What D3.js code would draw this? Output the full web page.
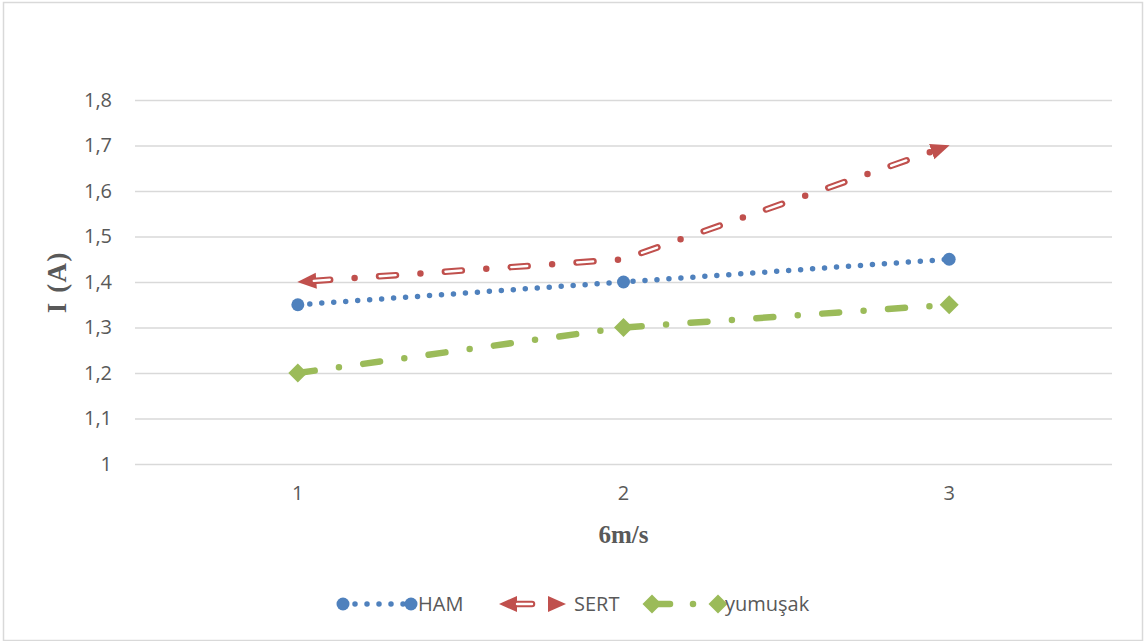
<!DOCTYPE html>
<html>
<head>
<meta charset="utf-8">
<script src="https://cdn.jsdelivr.net/npm/d3@7"></script>
<style>
  html, body { margin: 0; padding: 0; background: #fff; }
  svg { display: block; }
</style>
</head>
<body>
<svg id="chart" width="1144" height="641"></svg>
<script>
// Category labels along the x axis
const categories = ["1", "2", "3"];
// Current readings, one array per material
const hamValues = [1.35, 1.40, 1.45];
const sertValues = [1.40, 1.45, 1.70];
const yumusakValues = [1.20, 1.30, 1.35];
// Y axis tick values
const yTicks = [1.0, 1.1, 1.2, 1.3, 1.4, 1.5, 1.6, 1.7, 1.8];
const seriesNames = ["HAM", "SERT", "yumuşak"];

const W = 1144, H = 641;
const margin = { left: 135, right: 32, top: 100, bottom: 177 };
const textColor = "#595959";
const gridColor = "#d9d9d9";
const blue = "#4F81BD", red = "#C0504D", green = "#9BBB59";
const labelFont = "'Open Sans', 'Liberation Sans', sans-serif";
const titleFont = "'Liberation Serif', 'Times New Roman', serif";
const labelSize = "20px";

const svg = d3.select("#chart");

// Outer chart frame
svg.append("rect")
  .attr("x", 3.5).attr("y", 2.5)
  .attr("width", W - 5).attr("height", H - 3)
  .attr("fill", "#fff")
  .attr("stroke", gridColor)
  .attr("stroke-width", 1.5);

const x = d3.scaleBand()
  .domain(categories)
  .range([margin.left, W - margin.right]);
const cx = c => x(c) + x.bandwidth() / 2;

const y = d3.scaleLinear()
  .domain([1.0, 1.8])
  .range([H - margin.bottom, margin.top]);

const locale = d3.formatLocale({ decimal: ",", thousands: ".", grouping: [3], currency: ["", ""] });
const fmt = locale.format(".1~f");

// Horizontal gridlines
const grid = svg.append("g")
  .attr("transform", `translate(${margin.left},0)`)
  .call(d3.axisLeft(y).tickValues(yTicks).tickSize(-(W - margin.left - margin.right)).tickFormat(""));
grid.select(".domain").remove();
grid.selectAll(".tick line").attr("stroke", gridColor).attr("stroke-width", 1.4);

// Y axis labels
const yAxis = svg.append("g")
  .attr("transform", `translate(${margin.left},0)`)
  .call(d3.axisLeft(y).tickValues(yTicks).tickSize(0).tickPadding(23).tickFormat(fmt));
yAxis.select(".domain").remove();
yAxis.selectAll("text")
  .attr("fill", textColor)
  .style("font-family", labelFont)
  .style("font-size", labelSize);

// X axis labels
const xAxis = svg.append("g")
  .attr("transform", `translate(0,${H - margin.bottom})`)
  .call(d3.axisBottom(x).tickSize(0).tickPadding(22));
xAxis.select(".domain").remove();
xAxis.selectAll("text")
  .attr("fill", textColor)
  .style("font-family", labelFont)
  .style("font-size", labelSize);

// Axis titles
svg.append("text")
  .attr("transform", `translate(66,${(y(1.0) + y(1.8)) / 2}) rotate(-90)`)
  .attr("text-anchor", "middle")
  .attr("fill", textColor)
  .style("font-family", titleFont)
  .style("font-weight", "bold")
  .style("font-size", "27px")
  .style("letter-spacing", "1.5px")
  .text("I (A)");

svg.append("text")
  .attr("x", cx("2"))
  .attr("y", 543)
  .attr("text-anchor", "middle")
  .attr("fill", textColor)
  .style("font-family", titleFont)
  .style("font-weight", "bold")
  .style("font-size", "25px")
  .text("6m/s");

// Arrow head marker for the SERT line ends
const defs = svg.append("defs");
defs.append("marker")
  .attr("id", "arrowRed")
  .attr("markerUnits", "userSpaceOnUse")
  .attr("viewBox", "0 -9 19 18")
  .attr("refX", 18.5).attr("refY", 0)
  .attr("markerWidth", 19).attr("markerHeight", 18)
  .attr("orient", "auto-start-reverse")
  .append("path")
  .attr("d", "M0,-8 L19,0 L0,8 Z")
  .attr("fill", red);

const line = d3.line().x(d => cx(d.c)).y(d => y(d.v));
const pts = vals => categories.map((c, i) => ({ c, v: vals[i] }));

const plot = svg.append("g");

// HAM: round dotted line with circle markers
plot.append("path")
  .datum(pts(hamValues))
  .attr("d", line)
  .attr("fill", "none")
  .attr("stroke", blue)
  .attr("stroke-width", 5.5)
  .attr("stroke-linecap", "round")
  .attr("stroke-dasharray", "0,12");
plot.selectAll(".ham-pt")
  .data(pts(hamValues))
  .join("circle")
  .attr("class", "ham-pt")
  .attr("cx", d => cx(d.c)).attr("cy", d => y(d.v))
  .attr("r", 6.5)
  .attr("fill", blue);

// SERT: hollow long dash-dot line with arrow heads at both ends
const dashPattern = "17,24.5,0,24.5";
plot.append("path")
  .datum(pts(sertValues))
  .attr("d", line)
  .attr("fill", "none")
  .attr("stroke", red)
  .attr("stroke-width", 6.5)
  .attr("stroke-linecap", "round")
  .attr("stroke-dasharray", dashPattern)
  .attr("stroke-dashoffset", -15.4)
  .attr("marker-start", "url(#arrowRed)")
  .attr("marker-end", "url(#arrowRed)");
plot.append("path")
  .datum(pts(sertValues))
  .attr("d", line)
  .attr("fill", "none")
  .attr("stroke", "#fff")
  .attr("stroke-width", 2.4)
  .attr("stroke-linecap", "round")
  .attr("stroke-dasharray", "16,50")
  .attr("stroke-dashoffset", -16.0);

// yumuşak: long dash-dot line with diamond markers
plot.append("path")
  .datum(pts(yumusakValues))
  .attr("d", line)
  .attr("fill", "none")
  .attr("stroke", green)
  .attr("stroke-width", 6.5)
  .attr("stroke-linecap", "round")
  .attr("stroke-dasharray", dashPattern);
const diamond = (s) => `M0,${-s} L${s},0 L0,${s} L${-s},0 Z`;
plot.selectAll(".yum-pt")
  .data(pts(yumusakValues))
  .join("path")
  .attr("class", "yum-pt")
  .attr("transform", d => `translate(${cx(d.c)},${y(d.v)})`)
  .attr("d", diamond(9.5))
  .attr("fill", green);

// Legend
const ly = 604;
const legend = svg.append("g");
const legendText = (xPos, label) => legend.append("text")
  .attr("x", xPos).attr("y", ly)
  .attr("dy", "0.35em")
  .attr("fill", textColor)
  .style("font-family", labelFont)
  .style("font-size", labelSize)
  .text(label);

// HAM entry
legend.append("line")
  .attr("x1", 343).attr("x2", 410).attr("y1", ly).attr("y2", ly)
  .attr("stroke", blue).attr("stroke-width", 5.5)
  .attr("stroke-linecap", "round").attr("stroke-dasharray", "0,12");
legend.selectAll(".lg-ham").data([343, 411]).join("circle")
  .attr("class", "lg-ham")
  .attr("cx", d => d).attr("cy", ly).attr("r", 6.5).attr("fill", blue);
legendText(418, seriesNames[0]);

// SERT entry
legend.append("path")
  .attr("d", `M499,${ly} L517,${ly - 8} L517,${ly + 8} Z`)
  .attr("fill", red);
legend.append("line")
  .attr("x1", 514).attr("x2", 532).attr("y1", ly).attr("y2", ly)
  .attr("stroke", red).attr("stroke-width", 6.5).attr("stroke-linecap", "round");
legend.append("line")
  .attr("x1", 517).attr("x2", 532).attr("y1", ly).attr("y2", ly)
  .attr("stroke", "#fff").attr("stroke-width", 2.4).attr("stroke-linecap", "round");
legend.append("path")
  .attr("d", `M548,${ly - 8} L566,${ly} L548,${ly + 8} Z`)
  .attr("fill", red);
legendText(574, seriesNames[1]);

// yumuşak entry
legend.append("line")
  .attr("x1", 652).attr("x2", 670).attr("y1", ly).attr("y2", ly)
  .attr("stroke", green).attr("stroke-width", 6.5).attr("stroke-linecap", "round");
legend.append("circle")
  .attr("cx", 693).attr("cy", ly).attr("r", 3.25).attr("fill", green);
legend.selectAll(".lg-yum").data([652, 718]).join("path")
  .attr("class", "lg-yum")
  .attr("transform", d => `translate(${d},${ly})`)
  .attr("d", diamond(9.5))
  .attr("fill", green);
legendText(725, seriesNames[2]);
</script>
</body>
</html>
